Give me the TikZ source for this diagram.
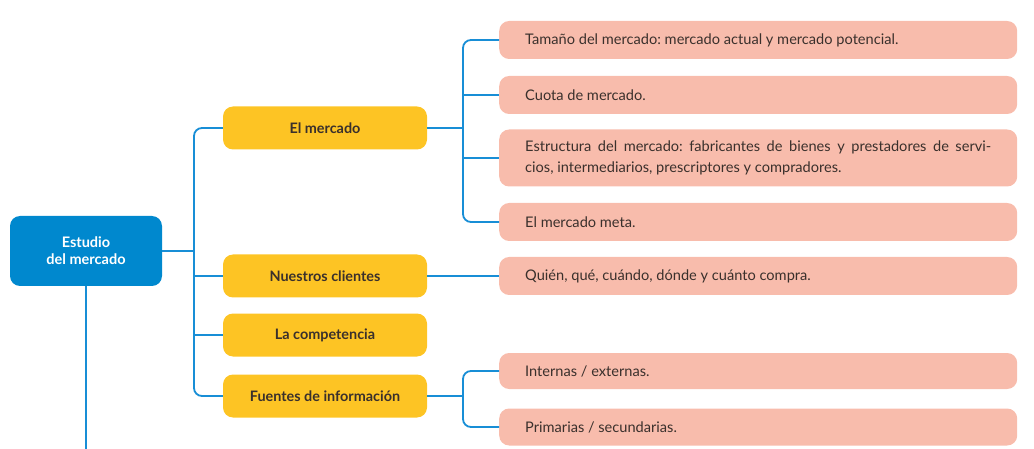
\documentclass[tikz,border=0pt]{standalone}
\usepackage{fontspec}
\setmainfont{Lato}
\usetikzlibrary{calc}

\definecolor{azul}{RGB}{0,136,206}
\definecolor{linea}{RGB}{24,142,214}
\definecolor{amarillo}{RGB}{253,196,36}
\definecolor{rosa}{RGB}{248,188,172}
\definecolor{texto}{RGB}{58,48,44}

\begin{document}
\begin{tikzpicture}[x=1pt,y=-1pt,
        raiz/.style={fill=azul,rounded corners=10pt,minimum width=152pt,minimum height=70pt,
            text=white,align=center,font=\bfseries\fontsize{14.5}{17}\selectfont},
        tema/.style={fill=amarillo,rounded corners=10pt,minimum width=204pt,minimum height=43pt,
            text=texto,font=\bfseries\fontsize{14.4}{16}\selectfont},
        hoja/.style={fill=rosa,rounded corners=10pt,anchor=west,inner xsep=26pt,text width=466pt,
            minimum height=38pt,align=justify,text=texto,font=\frenchspacing\fontsize{14.6}{21}\selectfont},
        enlace/.style={draw=linea,line width=1.8pt,rounded corners=8pt}]
        \useasboundingbox (0,0) rectangle (1034,449);
        % raiz y temas
        \node[raiz] (raiz) at (86,251) {Estudio\\del mercado};
        \node[tema] (mercado) at (325,128) {El mercado};
        \node[tema] (clientes) at (325,276) {Nuestros clientes};
        \node[tema] (compet) at (325,335) {La competencia};
        \node[tema] (fuentes) at (325,396) {Fuentes de información};
        % hojas
        \node[hoja] (tam) at (499,40) {Tamaño del mercado: mercado actual y mercado potencial.};
        \node[hoja] (cuota) at (499,95) {Cuota de mercado.};
        \node[hoja,minimum height=57pt] (estr) at (499,158) {Estructura del mercado: fabricantes de bienes y prestadores de servi-\linebreak cios, intermediarios, prescriptores y compradores.};
        \node[hoja] (meta) at (499,222) {El mercado meta.};
        \node[hoja] (quien) at (499,276) {Quién, qué, cuándo, dónde y cuánto compra.};
        \node[hoja,minimum height=36pt] (intern) at (499,371) {Internas / externas.};
        \node[hoja,minimum height=37pt] (prim) at (499,427) {Primarias / secundarias.};
        % enlaces
        \coordinate (t) at (194,251);
        \coordinate (m) at (463,128);
        \coordinate (f) at (463,396);
        \coordinate (fondo) at (86,449);
        \draw[enlace] (raiz.south) -- (fondo);
        \draw[enlace] (raiz.east) -- (t);
        \draw[enlace] (mercado.west) -| (t) |- (fuentes.west);
        \foreach \n in {clientes,compet}
            \draw[enlace] (t |- \n.west) -- (\n.west);
        \draw[enlace] (mercado.east) -- (m);
        \draw[enlace] (tam.west) -| (m) |- (meta.west);
        \foreach \n in {cuota,estr}
            \draw[enlace] (m |- \n.west) -- (\n.west);
        \draw[enlace] (clientes.east) -- (quien.west);
        \draw[enlace] (fuentes.east) -- (f);
        \draw[enlace] (intern.west) -| (f) |- (prim.west);
\end{tikzpicture}
\end{document}
